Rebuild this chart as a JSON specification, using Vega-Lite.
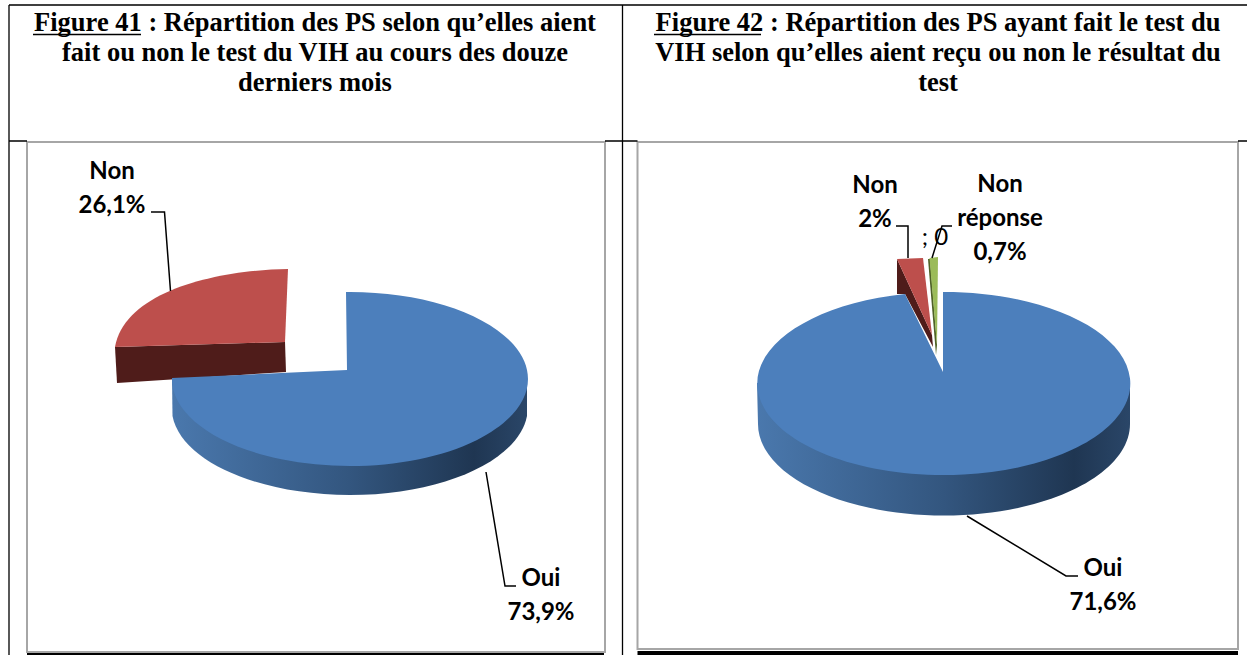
{"$schema":"https://vega.github.io/schema/vega-lite/v6.json","width":1247,"height":655,"padding":0,"autosize":{"type":"none"},"background":"#ffffff","config":{"view":{"stroke":null}},
"datasets":{
"tranches":[{"figure":41,"tranche":"Oui","valeur":73.9,"etiquette":"Oui\n73,9%"},{"figure":41,"tranche":"Non","valeur":26.1,"etiquette":"Non\n26,1%"},{"figure":42,"tranche":"Oui","valeur":71.6,"etiquette":"Oui\n71,6%"},{"figure":42,"tranche":"Non","valeur":2,"etiquette":"Non\n2%"},{"figure":42,"tranche":"Non réponse","valeur":0.7,"etiquette":"Non\nréponse\n0,7%"}],
"parasite":[{"figure":42,"tranche":"Série vide","valeur":0,"etiquette":"; 0"}],
"titres":[{"figure":41,"ligne":1,"texte":"Figure 41 : Répartition des PS selon qu’elles aient"},{"figure":41,"ligne":2,"texte":"fait ou non le test du VIH au cours des douze"},{"figure":41,"ligne":3,"texte":"derniers mois"},{"figure":42,"ligne":1,"texte":"Figure 42 : Répartition des PS ayant fait le test du"},{"figure":42,"ligne":2,"texte":"VIH selon qu’elles aient reçu ou non le résultat du"},{"figure":42,"ligne":3,"texte":"test"}],
"tableau":[{"element":"tableau"}]},
"resolve":{"scale":{"x":"independent","y":"independent"}},
"layer":[
{"data":{"name":"tableau"},"mark":{"type":"point","shape":"M-596.5,-185.5H-18.5V324.5H-596.5Z M14,-185.5H614.5V321.5H14Z","size":4,"filled":true,"fill":"#ffffff","stroke":"#a6a6a6","strokeWidth":2,"opacity":1},"encoding":{}},
{"data":{"name":"tableau"},"mark":{"type":"point","shape":"M-614.5,-322.5H623.5 M-614.5,-322.5V327.5 M-1,-322.5V327.5 M-614.5,-186.5H-596.5 M-18.5,-186.5H14 M614.5,-186.5H623.5 M-590.5,-293H-482.5 M30.5,-293H137.5","size":4,"filled":false,"stroke":"#000000","strokeWidth":1.3,"opacity":1},"encoding":{}},
{"data":{"name":"tableau"},"mark":{"type":"point","shape":"M-596.5,325.5H-19.5V328H-596.5Z M14,323.5H614.5V328H14Z","size":4,"filled":true,"fill":"#000000","opacity":1},"encoding":{}},

{"data":{"name":"tranches"},"transform":[{"filter":"datum.figure==41 && datum.tranche=='Non'"}],"mark":{"type":"point","shape":"M-508.5,19.5L-338.5,14.5L-337.5,44.5L-506.5,55.5Z","size":4,"filled":true,"fill":"#4f1c1a","opacity":1},"encoding":{}},
{"data":{"name":"tranches"},"transform":[{"filter":"datum.figure==41 && datum.tranche=='Non'"}],"mark":{"type":"point","shape":"M-338.5,14.5L-335.5,-58.5C-403.5,-57.5,-498.5,-37.5,-508.5,19.5Z","size":4,"filled":true,"fill":"#bd4f4c","opacity":1},"encoding":{}},
{"data":{"name":"tranches"},"transform":[{"filter":"datum.figure==41 && datum.tranche=='Oui'"}],"mark":{"type":"point","shape":"M-451.5,50.5L-451,88.5A178,87,0,0,0,-96.5,88.5L-96.5,50.5Z","size":4,"filled":true,"fill":{"gradient":"linear","x1":0,"y1":0,"x2":1,"y2":0,"stops":[{"offset":0,"color":"#4a78ad"},{"offset":0.5,"color":"#33567f"},{"offset":0.85,"color":"#1f3652"},{"offset":1,"color":"#2a4668"}]},"opacity":1},"encoding":{}},
{"data":{"name":"tranches"},"transform":[{"filter":"datum.figure==41 && datum.tranche=='Oui'"}],"mark":{"type":"point","shape":"M-276.5,42.5L-277.5,-35.5A178,87,0,1,1,-451.5,50.5Z","size":4,"filled":true,"fill":"#4c7fbc","opacity":1},"encoding":{}},

{"data":{"name":"tranches"},"transform":[{"filter":"datum.figure==42 && datum.tranche=='Non'"}],"mark":{"type":"point","shape":"M273.5,-68.5L273.5,-33.5L281.5,-33.5L309.5,19.5L308.5,7.5Z","size":4,"filled":true,"fill":"#4f1c1a","opacity":1},"encoding":{}},
{"data":{"name":"tranches"},"transform":[{"filter":"datum.figure==42 && datum.tranche=='Non'"}],"mark":{"type":"point","shape":"M273.5,-68.5L299.5,-69.5L308.5,7.5Z","size":4,"filled":true,"fill":"#bd4f4c","opacity":1},"encoding":{}},
{"data":{"name":"tranches"},"transform":[{"filter":"datum.figure==42 && datum.tranche=='Non réponse'"}],"mark":{"type":"point","shape":"M304.5,-68.5L306.5,-68.5L313.5,17.5L312.5,27.5Z","size":4,"filled":true,"fill":"#4f6228","opacity":1},"encoding":{}},
{"data":{"name":"tranches"},"transform":[{"filter":"datum.figure==42 && datum.tranche=='Non réponse'"}],"mark":{"type":"point","shape":"M306,-69.5L314.5,-70.5L313.5,17.5Z","size":4,"filled":true,"fill":"#9bbb59","opacity":1},"encoding":{}},
{"data":{"name":"tranches"},"transform":[{"filter":"datum.figure==42 && datum.tranche=='Oui'"}],"mark":{"type":"point","shape":"M133.5,55.5L134.5,96.5A186,91.5,0,0,0,506.5,96.5L506.5,55.5Z","size":4,"filled":true,"fill":{"gradient":"linear","x1":0,"y1":0,"x2":1,"y2":0,"stops":[{"offset":0,"color":"#4a78ad"},{"offset":0.5,"color":"#33567f"},{"offset":0.85,"color":"#1f3652"},{"offset":1,"color":"#2a4668"}]},"opacity":1},"encoding":{}},
{"data":{"name":"tranches"},"transform":[{"filter":"datum.figure==42 && datum.tranche=='Oui'"}],"mark":{"type":"point","shape":"M319.5,44.5L319.5,-35.5A186.5,91.5,0,1,1,281.5,-33.5Z","size":4,"filled":true,"fill":"#4c7fbc","opacity":1},"encoding":{}},

{"data":{"name":"tableau"},"mark":{"type":"point","shape":"M-472.5,-115.5H-459L-453,-36.5 M-137.5,144.5L-118.5,258.5H-107.5 M272.5,-101.5H284.5V-69.5 M328.5,-101.5H318.5L308.5,-69.5 M343.5,188.5L442.5,248.5H454.5","size":4,"filled":false,"stroke":"#000000","strokeWidth":1.5,"opacity":1},"encoding":{}},

{"data":{"name":"tranches"},"mark":{"type":"text","font":"Lato","fontWeight":"bold","fontSize":24,"lineHeight":34,"align":"center","baseline":"middle","color":"#000000","lineBreak":"\n"},"encoding":{"text":{"field":"etiquette","type":"nominal"},"x":{"field":"valeur","type":"quantitative","axis":null,"scale":{"domain":[0.7,2,26.1,71.6,73.9],"range":[1000,875,112,1103,541],"zero":false,"nice":false}},"y":{"field":"valeur","type":"quantitative","axis":null,"scale":{"domain":[0.7,2,26.1,71.6,73.9],"range":[185,186,172,569,579],"zero":false,"nice":false}}}},
{"data":{"name":"parasite"},"mark":{"type":"text","font":"Lato","fontSize":24,"align":"center","baseline":"middle","color":"#000000"},"encoding":{"text":{"field":"etiquette","type":"nominal"},"x":{"field":"figure","type":"quantitative","axis":null,"scale":{"domain":[41,42],"range":[313,935],"zero":false,"nice":false}},"y":{"field":"valeur","type":"quantitative","axis":null,"scale":{"domain":[0,1],"range":[238,260],"zero":false,"nice":false}}}},
{"data":{"name":"titres"},"mark":{"type":"text","font":"Liberation Serif","fontWeight":"bold","fontSize":26.5,"align":"center","baseline":"middle","color":"#000000"},"encoding":{"text":{"field":"texte","type":"nominal"},"x":{"field":"figure","type":"quantitative","axis":null,"scale":{"domain":[41,42],"range":[315,938],"zero":false,"nice":false}},"y":{"field":"ligne","type":"quantitative","axis":null,"scale":{"domain":[1,3],"range":[23,83],"zero":false,"nice":false}}}}
]}
